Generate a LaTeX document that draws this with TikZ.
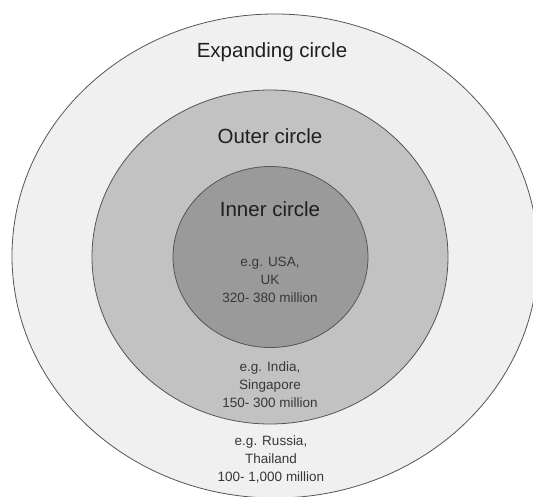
\documentclass[tikz,border=0pt]{standalone}
\usepackage{fontspec}
\setmainfont{Liberation Sans}
\usetikzlibrary{shapes.geometric}

\definecolor{expandfill}{HTML}{F0F0F0}
\definecolor{outerfill}{HTML}{C2C2C2}
\definecolor{innerfill}{HTML}{9A9A9A}
\definecolor{ringline}{HTML}{555555}

\begin{document}
\begin{tikzpicture}[
    x=1pt, y=-1pt,
    ring/.style={draw=ringline, line width=0.8pt, ellipse, inner sep=0pt},
    title/.style={anchor=base, text=black!88, font=\fontsize{20.5}{24}\selectfont},
    note/.style={align=center, text=black!78, font=\fontsize{13.5}{18}\selectfont}
]
\fill[white] (0,0) rectangle (533,496);
\useasboundingbox (0,0) rectangle (533,496);

\node[ring, fill=expandfill, minimum width=526pt, minimum height=484pt] (expanding) at (275,256) {};
\node[ring, fill=outerfill, minimum width=356pt, minimum height=334pt] (outer) at (270,257) {};
\node[ring, fill=innerfill, minimum width=195pt, minimum height=181pt] (inner) at (270.5,257) {};

\node[title] (expandingtitle) at (272,57) {Expanding circle};
\node[title] (outertitle) at (270,143) {Outer circle};
\node[title] (innertitle) at (270,216.5) {Inner circle};

\node[note] (innernote) at (270,280) {e.g. USA,\\UK\\320- 380 million};
\node[note] (outernote) at (270,385) {e.g. India,\\Singapore\\150- 300 million};
\node[note] (expandingnote) at (271,459) {e.g. Russia,\\Thailand\\100- 1,000 million};
\end{tikzpicture}
\end{document}
